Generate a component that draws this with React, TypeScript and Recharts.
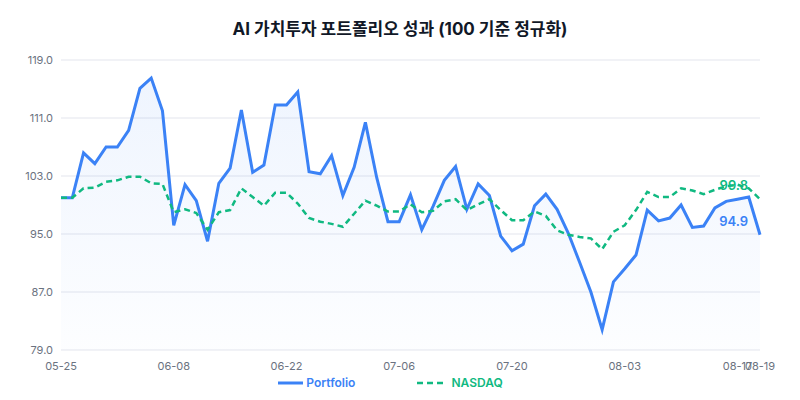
import { ComposedChart, Area, Line, XAxis, YAxis, CartesianGrid, Legend } from 'recharts';

// 날짜 (영업일 기준)
const dates = [
  '05-25', '05-26', '05-27', '05-28', '05-29',
  '06-01', '06-02', '06-03', '06-04', '06-05',
  '06-08', '06-09', '06-10', '06-11', '06-12',
  '06-15', '06-16', '06-17', '06-18', '06-19',
  '06-22', '06-23', '06-24', '06-25', '06-26',
  '06-29', '06-30', '07-01', '07-02', '07-03',
  '07-06', '07-07', '07-08', '07-09', '07-10',
  '07-13', '07-14', '07-15', '07-16', '07-17',
  '07-20', '07-21', '07-22', '07-23', '07-24',
  '07-27', '07-28', '07-29', '07-30', '07-31',
  '08-03', '08-04', '08-05', '08-06', '08-07',
  '08-10', '08-11', '08-12', '08-13', '08-14',
  '08-17', '08-18', '08-19',
];

const portfolio = [
  100.0, 100.0, 106.2, 104.7, 107.0, 107.0, 109.3, 115.1, 116.5, 112.0,
  96.2, 101.8, 99.6, 94.0, 102.0, 104.1, 112.1, 103.5, 104.5, 112.8,
  112.8, 114.6, 103.6, 103.3, 105.8, 100.3, 104.2, 110.4, 102.8, 96.7,
  96.7, 100.4, 95.6, 98.8, 102.4, 104.3, 98.4, 101.9, 100.3, 94.7,
  92.7, 93.6, 98.9, 100.5, 98.4, 95.1, 91.1, 87.0, 81.8, 88.4,
  90.2, 92.1, 98.3, 96.8, 97.2, 99.0, 95.9, 96.1, 98.6, 99.5,
  99.8, 100.1, 94.9,
];

const nasdaq = [
  100.0, 100.0, 101.3, 101.4, 102.2, 102.4, 102.9, 102.9, 102.0, 101.9,
  98.0, 98.4, 97.9, 95.6, 98.0, 98.3, 101.3, 100.1, 98.9, 100.7,
  100.7, 99.2, 97.2, 96.7, 96.4, 96.0, 97.8, 99.6, 98.9, 98.1,
  98.1, 99.1, 98.0, 98.2, 99.5, 99.8, 98.3, 99.1, 99.8, 98.3,
  96.9, 96.9, 98.1, 97.5, 95.5, 94.9, 94.6, 94.4, 92.9, 95.3,
  96.2, 98.3, 100.8, 100.1, 100.1, 101.3, 101.0, 100.5, 101.1, 101.6,
  101.8, 101.3, 99.8,
];

const yTicks = [79, 87, 95, 103, 111, 119];
const xTicks = ['05-25', '06-08', '06-22', '07-06', '07-20', '08-03', '08-17', '08-19'];

const data = dates.map((d, i) => ({ date: d, portfolio: portfolio[i], nasdaq: nasdaq[i] }));

const FONT = "Inter, 'Noto Sans CJK KR', sans-serif";
const BLUE = '#3b82f6';
const GREEN = '#10b981';

// 마지막 값 라벨
function lastLabel(color: string) {
  return (props: any) => {
    const { x, y, value, index } = props;
    if (index !== data.length - 1) return null;
    return (
      <text x={x - 12} y={y - 9} textAnchor="end" fill={color} fontSize={13} fontWeight={600} fontFamily={FONT}>
        {Number(value).toFixed(1)}
      </text>
    );
  };
}

function LegendContent() {
  return (
    <div style={{ display: 'flex', justifyContent: 'center', gap: 62, fontFamily: FONT, fontSize: 12, fontWeight: 600, marginLeft: 21, marginTop: 5 }}>
      <div style={{ display: 'flex', alignItems: 'center', color: BLUE }}>
        <svg width={26} height={10}>
          <line x1={0} y1={5} x2={25} y2={5} stroke={BLUE} strokeWidth={3} />
        </svg>
        <span style={{ marginLeft: 2 }}>Portfolio</span>
      </div>
      <div style={{ display: 'flex', alignItems: 'center', color: GREEN }}>
        <svg width={28} height={10}>
          <line x1={0} y1={5} x2={27} y2={5} stroke={GREEN} strokeWidth={2.5} strokeDasharray="6 4" />
        </svg>
        <span style={{ marginLeft: 6 }}>NASDAQ</span>
      </div>
    </div>
  );
}

export default function App() {
  return (
    <div style={{ position: 'absolute', left: 0, top: 0, width: 800, height: 400, background: '#fff' }}>
      <div style={{ position: 'absolute', top: 15, width: 800, textAlign: 'center', fontFamily: FONT, fontSize: 17, fontWeight: 700, color: '#111827' }}>
        AI 가치투자 포트폴리오 성과 (100 기준 정규화)
      </div>
      <ComposedChart width={800} height={400} data={data} margin={{ top: 60, right: 40, bottom: 0, left: 0 }}>
        <defs>
          <linearGradient id="pfFill" x1="0" y1="0" x2="0" y2="1">
            <stop offset="0%" stopColor={BLUE} stopOpacity={0.14} />
            <stop offset="100%" stopColor={BLUE} stopOpacity={0.02} />
          </linearGradient>
        </defs>
        <CartesianGrid vertical={false} stroke="#eceef3" strokeWidth={1.5} />
        <XAxis
          dataKey="date"
          ticks={xTicks}
          interval={0}
          axisLine={false}
          tickLine={false}
          height={20}
          tick={{ fill: '#6b7280', fontSize: 11, fontFamily: FONT }}
          tickMargin={6}
        />
        <YAxis
          domain={[79, 119]}
          ticks={yTicks}
          width={61}
          axisLine={false}
          tickLine={false}
          tickFormatter={(v: number) => v.toFixed(1)}
          tick={{ fill: '#6b7280', fontSize: 11, fontFamily: FONT }}
        />
        <Legend verticalAlign="bottom" height={30} content={() => <LegendContent />} />
        <Area
          type="linear"
          dataKey="portfolio"
          name="Portfolio"
          stroke={BLUE}
          strokeWidth={3}
          fill="url(#pfFill)"
          dot={false}
          activeDot={false}
          isAnimationActive={false}
          label={lastLabel(BLUE)}
        />
        <Line
          type="linear"
          dataKey="nasdaq"
          name="NASDAQ"
          stroke={GREEN}
          strokeWidth={2.5}
          strokeDasharray="6 4"
          dot={false}
          activeDot={false}
          isAnimationActive={false}
          label={lastLabel(GREEN)}
        />
      </ComposedChart>
    </div>
  );
}
